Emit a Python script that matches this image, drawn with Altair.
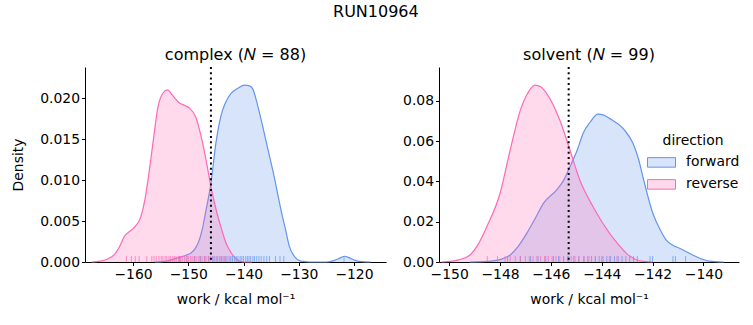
import altair as alt
import pandas as pd

FWD = "#6495ED"
REV = "#FF69B4"
FONT = "DejaVu Sans"

# ---- complex panel: KDE curves ----
cx_rev_w = [-167.5, -166.0, -164.5, -163.4, -162.5, -161.6, -160.5, -159.8, -158.6, -157.8,
            -157.3, -156.4, -155.5, -154.6, -153.8, -152.8, -151.6, -150.6, -149.8, -148.6,
            -147.4, -146.6, -145.9, -145.0, -144.1, -143.1, -142.2, -141.2, -140.0, -138.5]
cx_rev_d = [0.0, 0.0001, 0.0004, 0.0009, 0.0018, 0.0031, 0.0038, 0.0042, 0.0055, 0.0078,
            0.0100, 0.0145, 0.0189, 0.0206, 0.0210, 0.0203, 0.0194, 0.0191, 0.0188, 0.0176,
            0.0145, 0.0118, 0.0092, 0.0065, 0.0043, 0.0022, 0.0011, 0.0003, 0.0, 0.0]
cx_fwd_w = [-156.0, -154.0, -152.0, -150.5, -149.5, -148.7, -148.0, -147.4, -146.8, -145.9,
            -145.0, -144.3, -143.8, -143.0, -142.2, -141.0, -139.8, -138.9, -138.3, -137.4,
            -136.5, -135.6, -134.7, -133.9, -133.2, -132.4, -131.7, -130.8, -129.6, -128.0,
            -125.0, -123.5, -122.5, -121.7, -120.8, -119.8, -118.5, -117.0]
cx_fwd_d = [0.0, 0.0001, 0.0005, 0.0008, 0.0011, 0.0017, 0.0027, 0.0042, 0.0063, 0.0096,
            0.0145, 0.0172, 0.0185, 0.0198, 0.0206, 0.0212, 0.0216, 0.0215, 0.0211, 0.0190,
            0.0165, 0.0138, 0.0112, 0.0086, 0.0063, 0.0040, 0.0019, 0.0007, 0.0001, 0.0,
            0.0, 0.0002, 0.0005, 0.0007, 0.0005, 0.0002, 0.00005, 0.0]
cx_rug_rev = [-161.2, -160.3, -159.6, -158.9, -157.5, -156.6, -156.2, -155.8, -155.3, -154.9,
              -154.6, -154.2, -153.9, -153.5, -153.2, -152.8, -152.5, -152.2, -151.8, -151.4,
              -151.1, -150.7, -150.4, -150.0, -149.6, -149.3, -148.9, -148.6, -148.2, -147.9,
              -147.5, -147.1, -146.8, -146.4, -146.0, -145.5, -144.8, -144.1, -143.4]
cx_rug_fwd = [-151.6, -150.2, -148.9, -147.8, -147.0, -146.3, -145.6, -145.2, -144.8, -144.4,
              -144.0, -143.7, -143.3, -143.0, -142.6, -142.3, -142.0, -141.6, -141.3, -141.0,
              -140.6, -140.3, -140.0, -139.6, -139.3, -139.0, -138.7, -138.3, -138.0, -137.6,
              -137.2, -136.8, -136.3, -135.8, -135.3, -134.2, -133.4, -132.7, -121.8]
cx_vline = [-145.9]

# ---- solvent panel ----
sv_rev_w = [-150.3, -149.96, -149.6, -149.18, -148.85, -148.52, -148.0, -147.6, -147.2, -146.9,
            -146.63, -146.4, -146.17, -145.65, -145.25, -144.86, -144.34, -143.69, -143.35, -143.03,
            -142.7, -142.38, -142.0]
sv_rev_d = [0.0, 0.0003, 0.0012, 0.0035, 0.0090, 0.0175, 0.0340, 0.0556, 0.0754, 0.0840,
            0.0878, 0.0870, 0.0837, 0.0705, 0.0556, 0.0407, 0.0274, 0.0142, 0.0088, 0.0043,
            0.0015, 0.0003, 0.0]
sv_fwd_w = [-149.2, -148.52, -148.0, -147.6, -147.3, -146.95, -146.6, -146.3, -145.78, -145.5,
            -145.25, -144.95, -144.73, -144.45, -144.15, -143.9, -143.69, -143.16, -142.77, -142.55,
            -142.38, -141.99, -141.70, -141.46, -141.2, -140.94, -140.42, -140.0, -139.76, -139.2]
sv_fwd_d = [0.0, 0.0003, 0.0012, 0.0035, 0.0075, 0.0142, 0.0220, 0.0290, 0.0357, 0.0405,
            0.0473, 0.0560, 0.0639, 0.0695, 0.0734, 0.0728, 0.0713, 0.0663, 0.0589, 0.0510,
            0.0423, 0.0242, 0.0160, 0.0109, 0.0083, 0.0068, 0.0035, 0.0012, 0.0004, 0.0]
sv_rug_rev = [-148.5, -148.1, -147.8, -147.6, -147.4, -147.2, -147.0, -146.85, -146.7, -146.55,
              -146.4, -146.25, -146.1, -145.95, -145.8, -145.65, -145.5, -145.35, -145.2, -145.05,
              -144.9, -144.7, -144.5, -144.25, -144.0, -143.7, -143.4]
sv_rug_fwd = [-147.7, -147.2, -146.8, -146.5, -146.2, -145.9, -145.7, -145.5, -145.3, -145.1,
              -144.9, -144.7, -144.55, -144.4, -144.25, -144.1, -143.95, -143.8, -143.65, -143.5,
              -143.35, -143.2, -143.05, -142.9, -142.75, -142.6, -142.1, -142.0, -141.2, -141.1,
              -140.7]
sv_vline = [-145.3]

directions = ["forward", "reverse"]
W1, W2, H = 301, 300, 195
RECT = "M-1,-0.34H1V0.34H-1Z"
LEG = dict(title="direction", orient="none", legendX=562, legendY=67, symbolType=RECT, symbolSize=784,
           symbolStrokeWidth=1, labelOffset=10, rowPadding=0, titleAnchor="middle", titlePadding=0)


def panel(title, width, fw_w, fw_d, rv_w, rv_d, rug_f, rug_r, vline, xdom, ydom,
          xticks, yticks, yfmt, ytitle, with_legend):
    xs = alt.Scale(domain=xdom, nice=False, zero=False)
    ys = alt.Scale(domain=ydom, nice=False, zero=False)
    xax = alt.Axis(values=xticks, format="d", title="work / kcal mol⁻¹", grid=False)
    yax = alt.Axis(values=yticks, format=yfmt, title=ytitle, grid=False)
    layers = []
    first = True
    for w, d, col in [(fw_w, fw_d, FWD), (rv_w, rv_d, REV)]:
        base = alt.Chart(pd.DataFrame({"work": w, "density": d}))
        if first:
            enc = dict(x=alt.X("work:Q", scale=xs, axis=xax), y=alt.Y("density:Q", scale=ys, axis=yax))
            first = False
        else:
            enc = dict(x="work:Q", y="density:Q")
        layers.append(base.mark_area(color=col, fillOpacity=0.25, interpolate="monotone").encode(**enc))
        layers.append(base.mark_line(color=col, strokeWidth=1.2, interpolate="monotone")
                      .encode(x="work:Q", y="density:Q"))
    for r, col in [(rug_f, FWD), (rug_r, REV)]:
        layers.append(alt.Chart(pd.DataFrame({"work": r})).mark_rule(color=col, opacity=0.7, strokeWidth=1)
                      .encode(x="work:Q", y=alt.value(H), y2=alt.value(H - 6)))
    layers.append(alt.Chart(pd.DataFrame({"work": vline})).mark_rule(color="black", strokeWidth=2,
                                                                      strokeDash=[2, 3.3])
                  .encode(x="work:Q"))
    if with_legend:
        leg = alt.Chart(pd.DataFrame({"direction": directions, "work": [xdom[0]] * 2,
                                      "density": [0.0, 0.0]})).transform_filter("false").mark_point(
            filled=True, opacity=1, shape=RECT, size=784, strokeWidth=1).encode(
            x="work:Q", y="density:Q",
            fill=alt.Fill("direction:N", scale=alt.Scale(domain=directions,
                                                         range=["rgba(100,149,237,0.25)",
                                                                "rgba(255,105,180,0.25)"]),
                          legend=alt.Legend(**LEG)),
            stroke=alt.Stroke("direction:N", scale=alt.Scale(domain=directions, range=[FWD, REV]),
                              legend=alt.Legend(**LEG)),
        )
        layers.append(leg)
    return alt.layer(*layers).properties(
        width=width, height=H,
        title=alt.TitleParams(title, fontSize=16, font=FONT, fontWeight="normal", offset=3),
    )


left = panel("complex (𝑁 = 88)", W1, cx_fwd_w, cx_fwd_d, cx_rev_w, cx_rev_d, cx_rug_fwd, cx_rug_rev,
             cx_vline, [-168.7, -114.2], [0, 0.0238], [-160, -150, -140, -130, -120],
             [0, 0.005, 0.010, 0.015, 0.020], ".3f", "Density", False)
right = panel("solvent (𝑁 = 99)", W2, sv_fwd_w, sv_fwd_d, sv_rev_w, sv_rev_d, sv_rug_fwd, sv_rug_rev,
              sv_vline, [-150.4, -138.6], [0, 0.0968], [-150, -148, -146, -144, -142, -140],
              [0, 0.02, 0.04, 0.06, 0.08], ".2f", None, True)

chart = alt.hconcat(left, right, spacing=16).properties(
    title=alt.TitleParams("RUN10964", fontSize=16, font=FONT, fontWeight="normal", anchor="middle",
                          offset=27),
    padding={"left": 11, "top": 4, "right": 5, "bottom": 5},
).configure_view(stroke=None).configure_axis(
    labelFont=FONT, titleFont=FONT, labelFontSize=13.9, titleFontSize=13.9, titleFontWeight="normal",
    labelColor="black", titleColor="black", domainColor="black", tickColor="black",
    tickSize=3.5, labelPadding=2, domainWidth=1, tickWidth=1,
).configure_axisX(titlePadding=11).configure_axisY(titlePadding=14).configure_legend(
    labelFont=FONT, titleFont=FONT, labelFontSize=13.9, titleFontSize=13.9, titleFontWeight="normal",
    labelColor="black", titleColor="black",
).configure_title(color="black")

chart.save("out.html", embed_options={"renderer": "svg", "actions": False})
